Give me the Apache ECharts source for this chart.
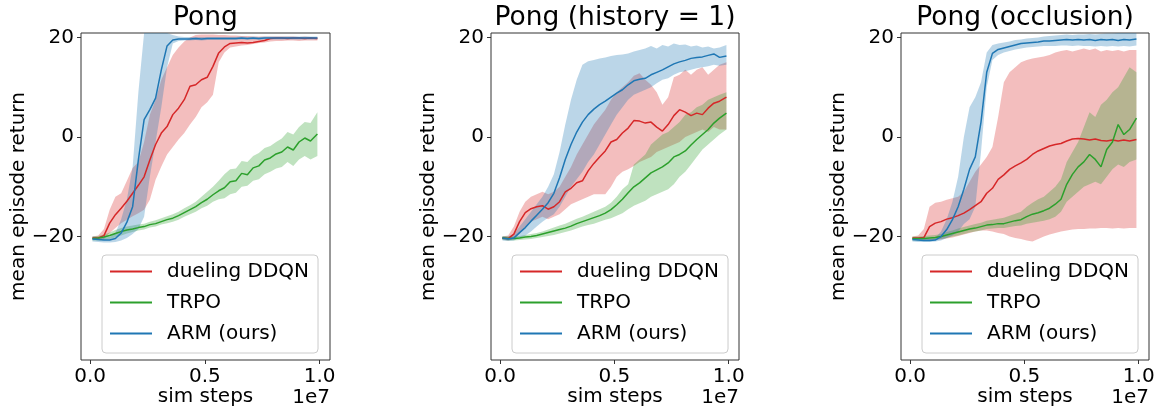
<!DOCTYPE html>
<html>
<head>
<meta charset="utf-8">
<script src="https://cdn.jsdelivr.net/npm/echarts@6/dist/echarts.min.js"></script>
<style>
  html, body { margin: 0; padding: 0; background: #fff; }
  #chart { width: 1158px; height: 409px; }
</style>
</head>
<body>
<div id="chart"></div>
<script>
// Training steps (in units of 1e7) shared by every curve
const STEPS = [0.01,0.035,0.06,0.085,0.11,0.135,0.16,0.185,0.21,0.235,0.26,0.285,0.31,0.335,0.36,0.385,0.41,0.435,0.46,0.485,0.51,0.535,0.56,0.585,0.61,0.635,0.66,0.685,0.71,0.735,0.76,0.785,0.81,0.835,0.86,0.885,0.91,0.935,0.96,0.99];

const TITLES = ['Pong', 'Pong (history = 1)', 'Pong (occlusion)'];
const METHODS = ['dueling DDQN', 'TRPO', 'ARM (ours)'];
const X_TICKS = [0, 0.5, 1.0];
const Y_TICKS = [-20, 0, 20];

// ---- Pong ----
const PONG_DDQN    = [-20.3,-20.3,-19.8,-17.3,-15.6,-14.3,-12.9,-11.3,-9.7,-8.0,-4.6,-1.5,0.8,2.1,4.5,5.8,7.5,10.2,10.5,11.5,12.0,14.2,16.9,18.1,18.8,18.9,19.0,18.9,19.0,19.2,19.4,19.8,19.9,19.9,19.8,19.9,19.9,19.8,19.9,19.8];
const PONG_DDQN_LO = [-20.6,-20.7,-20.5,-19.3,-18.3,-17.3,-16.6,-15.9,-15.3,-14.6,-12.6,-8.6,-5.9,-3.5,-2.0,-0.5,0.8,2.5,4.0,6.0,7.0,8.5,15.0,17.0,18.0,18.2,18.4,18.5,18.7,18.9,19.0,19.2,19.3,19.3,19.4,19.4,19.3,19.4,19.4,19.4];
const PONG_DDQN_HI = [-20.0,-19.8,-18.5,-14.6,-12.0,-11.3,-8.8,-6.2,-5.0,-1.0,4.5,7.5,11.5,14.0,16.5,18.0,19.2,20.0,20.5,20.6,20.6,20.6,20.5,20.5,20.4,20.4,20.3,20.3,20.2,20.2,20.2,20.2,20.2,20.2,20.2,20.2,20.1,20.2,20.1,20.1];
const PONG_TRPO    = [-20.4,-20.3,-20.1,-19.8,-19.4,-19.0,-18.7,-18.5,-18.2,-18.0,-17.6,-17.4,-17.0,-16.6,-16.3,-15.8,-15.2,-14.6,-14.0,-13.2,-12.5,-11.6,-10.8,-10.2,-9.0,-8.8,-7.3,-7.6,-6.2,-5.8,-4.6,-4.2,-3.4,-3.0,-2.0,-2.6,-1.0,-0.2,-0.8,0.6];
const PONG_TRPO_LO = [-20.8,-20.8,-20.7,-20.5,-20.2,-19.8,-19.4,-19.1,-18.8,-18.6,-18.2,-18.0,-17.6,-17.3,-17.0,-16.6,-16.0,-15.5,-15.0,-14.3,-13.8,-13.0,-12.5,-12.3,-11.5,-11.2,-10.0,-9.8,-8.8,-8.5,-7.5,-7.0,-6.3,-6.0,-5.0,-5.8,-4.5,-3.8,-4.5,-3.8];
const PONG_TRPO_HI = [-20.0,-19.9,-19.6,-19.2,-18.7,-18.3,-18.0,-17.8,-17.6,-17.4,-17.0,-16.7,-16.3,-15.9,-15.5,-15.0,-14.3,-13.7,-13.0,-12.0,-11.0,-10.0,-8.8,-7.5,-6.5,-6.3,-4.8,-5.0,-3.8,-3.2,-2.2,-1.8,-1.0,-0.3,1.0,0.5,2.0,3.0,2.8,5.0];
const PONG_ARM     = [-20.5,-20.6,-20.7,-20.7,-20.4,-19.3,-17.1,-14.0,-4.6,3.5,5.5,7.8,13.5,18.3,19.5,19.7,19.7,19.7,19.8,19.7,19.8,19.8,19.8,19.8,19.8,19.8,19.9,19.8,19.9,19.8,19.9,19.9,19.9,19.9,19.9,19.9,19.9,19.9,19.9,19.9];
const PONG_ARM_LO  = [-21.0,-21.1,-21.2,-21.2,-21.1,-20.8,-20.3,-19.5,-18.5,-16.0,-8.0,-1.0,6.0,14.0,18.8,19.3,19.4,19.4,19.5,19.4,19.5,19.5,19.5,19.5,19.5,19.5,19.6,19.5,19.6,19.5,19.6,19.6,19.6,19.6,19.6,19.6,19.6,19.6,19.6,19.6];
const PONG_ARM_HI  = [-20.0,-20.1,-20.2,-20.1,-19.3,-16.5,-12.5,-6.0,9.0,26.0,26.0,26.0,25.0,23.0,20.5,20.2,20.1,20.1,20.1,20.1,20.1,20.1,20.1,20.1,20.1,20.1,20.2,20.1,20.2,20.1,20.2,20.2,20.2,20.2,20.2,20.2,20.2,20.2,20.2,20.2];

// ---- Pong (history = 1) ----
const HIST_DDQN    = [-20.3,-20.4,-19.5,-17.0,-15.2,-14.4,-14.0,-13.8,-14.5,-14.0,-13.0,-11.0,-10.3,-9.2,-8.8,-6.8,-5.3,-4.0,-2.8,-1.0,-0.5,0.8,1.8,3.3,3.2,2.8,3.0,2.0,1.2,2.5,4.3,5.5,5.0,4.3,4.8,4.5,5.8,6.8,7.2,8.0];
const HIST_DDQN_LO = [-20.6,-20.8,-20.5,-19.5,-18.0,-17.0,-16.5,-16.0,-16.5,-16.0,-15.5,-14.5,-13.5,-13.0,-12.5,-12.0,-11.5,-11.5,-11.5,-10.0,-8.0,-7.0,-6.5,-5.8,-5.0,-4.5,-4.0,-3.0,-2.5,-2.0,-1.5,-1.0,0.0,0.5,1.0,1.5,1.0,2.0,1.5,1.5];
const HIST_DDQN_HI = [-20.0,-19.8,-18.0,-15.0,-13.0,-12.0,-11.5,-11.0,-11.5,-11.0,-10.0,-8.0,-6.0,-3.5,-1.5,0.5,2.5,4.0,5.5,7.5,9.0,10.0,11.0,12.3,12.8,11.5,10.5,9.0,6.5,8.0,12.0,12.5,13.5,12.5,13.5,14.0,12.5,13.5,14.5,15.0];
const HIST_TRPO    = [-20.3,-20.4,-20.4,-20.3,-20.1,-20.0,-19.8,-19.5,-19.2,-18.9,-18.6,-18.3,-17.9,-17.4,-17.0,-16.6,-16.2,-15.8,-15.3,-14.6,-13.6,-12.5,-11.2,-10.0,-9.2,-8.2,-7.2,-6.6,-6.0,-5.2,-4.0,-3.5,-2.8,-1.6,-0.5,0.5,1.5,2.8,3.8,4.8];
const HIST_TRPO_LO = [-20.7,-20.8,-20.8,-20.7,-20.6,-20.5,-20.3,-20.1,-19.9,-19.7,-19.4,-19.1,-18.8,-18.4,-18.0,-17.7,-17.4,-17.0,-16.6,-16.3,-15.8,-15.3,-14.5,-13.8,-13.3,-12.8,-12.0,-11.5,-11.0,-10.5,-9.5,-8.0,-7.0,-5.5,-4.0,-2.5,-1.5,-0.5,0.5,1.5];
const HIST_TRPO_HI = [-19.9,-20.0,-20.0,-19.9,-19.7,-19.5,-19.3,-19.0,-18.6,-18.2,-17.8,-17.4,-16.9,-16.4,-16.0,-15.5,-15.0,-14.5,-14.0,-13.2,-12.0,-10.5,-9.5,-5.5,-4.5,-3.5,-1.5,-0.5,0.5,1.0,2.0,3.0,4.5,5.0,6.0,6.5,7.5,8.0,8.5,9.0];
const HIST_ARM     = [-20.3,-20.5,-20.3,-19.2,-18.2,-16.9,-15.7,-14.5,-13.2,-11.3,-8.2,-4.5,-1.5,1.0,3.0,4.5,5.6,6.5,7.2,8.0,8.8,9.5,10.5,11.3,11.6,11.8,12.5,13.0,13.5,14.1,14.7,15.1,15.4,15.8,16.0,16.1,16.4,16.7,16.0,16.3];
const HIST_ARM_LO  = [-20.8,-20.9,-20.8,-20.3,-19.8,-19.0,-18.0,-17.0,-16.2,-15.5,-14.0,-12.0,-10.0,-8.5,-7.0,-5.0,-3.5,-1.5,0.5,2.5,4.5,6.0,7.5,8.5,9.0,9.5,10.0,10.8,11.5,11.8,12.5,13.0,13.2,13.5,13.8,14.0,14.2,14.5,14.3,14.5];
const HIST_ARM_HI  = [-20.0,-20.0,-19.5,-18.0,-16.5,-15.0,-13.5,-12.0,-10.0,-7.5,-3.0,2.5,7.5,11.5,14.5,15.2,15.5,15.8,16.0,16.3,16.5,16.6,16.8,17.2,17.5,17.8,18.3,17.8,18.5,18.2,18.8,18.5,18.6,18.2,18.4,18.0,18.2,17.8,18.0,18.5];

// ---- Pong (occlusion) ----
const OCCL_DDQN    = [-20.3,-20.3,-20.2,-18.0,-17.3,-17.0,-16.5,-16.2,-15.8,-15.3,-14.6,-13.8,-13.0,-11.3,-10.3,-8.5,-7.6,-6.5,-5.8,-5.2,-4.5,-3.5,-2.8,-2.3,-1.8,-1.5,-1.3,-0.8,-0.4,-0.3,-0.4,-0.6,-0.4,-0.7,-0.8,-0.6,-0.8,-0.6,-0.8,-0.5];
const OCCL_DDQN_LO = [-20.6,-20.7,-20.8,-20.8,-20.7,-20.6,-20.4,-20.2,-19.9,-19.6,-19.3,-19.0,-18.8,-18.8,-19.0,-19.3,-19.5,-20.0,-20.3,-20.5,-20.8,-21.0,-20.5,-20.0,-19.6,-19.3,-19.0,-18.8,-18.6,-18.5,-18.5,-18.4,-18.4,-18.3,-18.3,-18.4,-18.3,-18.4,-18.3,-18.3];
const OCCL_DDQN_HI = [-20.0,-19.8,-18.5,-14.0,-13.2,-13.0,-12.6,-12.3,-12.0,-11.0,-9.0,-7.0,-5.5,-4.0,-2.0,4.0,11.0,13.0,14.0,15.0,15.5,15.8,16.0,16.2,16.5,17.0,17.3,17.5,17.2,17.5,17.8,17.5,17.8,17.2,17.5,17.3,17.5,17.2,17.5,17.5];
const OCCL_TRPO    = [-20.4,-20.4,-20.4,-20.3,-20.2,-20.0,-19.7,-19.4,-19.1,-18.8,-18.5,-18.3,-18.0,-17.7,-17.6,-17.4,-17.4,-17.1,-16.8,-16.6,-16.0,-15.5,-15.2,-14.8,-14.3,-13.5,-12.5,-9.5,-7.5,-6.0,-5.0,-3.5,-4.5,-6.0,-2.5,-1.0,2.5,0.5,1.5,3.8];
const OCCL_TRPO_LO = [-20.8,-20.8,-20.8,-20.7,-20.6,-20.5,-20.3,-20.0,-19.8,-19.5,-19.2,-19.0,-18.8,-18.5,-18.4,-18.3,-18.3,-18.1,-17.9,-17.8,-17.4,-17.2,-17.0,-16.8,-16.5,-16.0,-15.0,-13.0,-12.0,-11.0,-10.0,-9.5,-9.0,-9.5,-8.0,-6.5,-5.5,-6.0,-5.0,-4.5];
const OCCL_TRPO_HI = [-20.0,-20.0,-19.9,-19.8,-19.7,-19.5,-19.1,-18.8,-18.4,-18.1,-17.8,-17.5,-17.2,-16.8,-16.6,-16.4,-16.2,-15.8,-15.4,-15.0,-14.0,-13.2,-12.5,-12.0,-11.0,-10.0,-8.5,-5.0,-3.0,-1.0,2.0,5.0,4.0,6.5,7.5,9.0,10.0,12.0,14.0,13.0];
const OCCL_ARM     = [-20.6,-20.7,-20.8,-20.8,-20.7,-20.0,-18.6,-16.6,-14.0,-10.5,-6.5,-4.0,3.0,13.0,16.8,17.6,17.9,18.2,18.5,18.8,18.9,19.0,19.1,19.3,19.3,19.4,19.5,19.6,19.5,19.6,19.5,19.6,19.4,19.6,19.5,19.6,19.4,19.6,19.5,19.7];
const OCCL_ARM_LO  = [-21.0,-21.1,-21.1,-21.1,-21.0,-20.8,-20.3,-19.8,-19.0,-17.5,-16.5,-14.0,-3.0,10.0,15.5,16.5,17.0,17.3,17.6,17.8,18.0,18.1,18.2,18.3,18.3,18.3,18.4,18.4,18.3,18.4,18.3,18.3,18.2,18.3,18.2,18.3,18.2,18.3,18.2,18.4];
const OCCL_ARM_HI  = [-20.3,-20.4,-20.5,-20.5,-20.3,-19.0,-16.5,-13.0,-8.0,0.0,6.0,8.0,11.0,17.0,18.5,18.8,19.0,19.2,19.5,19.6,19.8,19.9,20.0,20.2,20.3,20.4,20.5,20.6,20.5,20.6,20.6,20.7,20.6,20.7,20.8,20.8,20.9,20.9,21.0,21.0];

const PANELS = [
  { title: TITLES[0], curves: [[PONG_DDQN, PONG_DDQN_LO, PONG_DDQN_HI], [PONG_TRPO, PONG_TRPO_LO, PONG_TRPO_HI], [PONG_ARM, PONG_ARM_LO, PONG_ARM_HI]] },
  { title: TITLES[1], curves: [[HIST_DDQN, HIST_DDQN_LO, HIST_DDQN_HI], [HIST_TRPO, HIST_TRPO_LO, HIST_TRPO_HI], [HIST_ARM, HIST_ARM_LO, HIST_ARM_HI]] },
  { title: TITLES[2], curves: [[OCCL_DDQN, OCCL_DDQN_LO, OCCL_DDQN_HI], [OCCL_TRPO, OCCL_TRPO_LO, OCCL_TRPO_HI], [OCCL_ARM, OCCL_ARM_LO, OCCL_ARM_HI]] }
];

const LINE_COLORS = ['#d62728', '#2ca02c', '#1f77b4'];
const BAND_COLORS = ['rgba(214,39,40,0.3)', 'rgba(44,160,44,0.3)', 'rgba(31,119,180,0.3)'];
const FONT = 'DejaVu Sans';

// Panel placement (pixels)
const GRID_LEFT = [81, 491, 901];
const GRID_WIDTH = [249, 248, 248];
const GRID_TOP = 33;
const GRID_HEIGHT = 327;

function bandSeries(gi, lo, hi, color) {
  return {
    type: 'custom',
    xAxisIndex: gi,
    yAxisIndex: gi,
    silent: true,
    clip: true,
    data: STEPS.map((x, i) => [x, lo[i], hi[i]]),
    encode: { x: 0, y: [1, 2] },
    renderItem(params, api) {
      if (params.dataIndexInside !== 0) return;
      const cs = params.coordSys;
      const upper = [], lower = [];
      for (let i = 0; i < STEPS.length; i++) {
        upper.push(api.coord([STEPS[i], hi[i]]));
        lower.push(api.coord([STEPS[i], lo[i]]));
      }
      const pts = upper.concat(lower.reverse()).map(p =>
        [p[0], Math.min(Math.max(p[1], cs.y), cs.y + cs.height)]);
      return { type: 'polygon', shape: { points: pts }, style: { fill: color } };
    }
  };
}

function lineSeries(gi, name, values, color) {
  return {
    type: 'line',
    name: name,
    xAxisIndex: gi,
    yAxisIndex: gi,
    data: STEPS.map((x, i) => [x, values[i]]),
    symbol: 'none',
    showSymbol: false,
    clip: true,
    color: color,
    itemStyle: { color: color },
    lineStyle: { color: color, width: 1.5 }
  };
}

const grids = [], xAxes = [], yAxes = [], titles = [], legends = [], series = [], graphics = [];

PANELS.forEach((panel, gi) => {
  grids.push({
    left: GRID_LEFT[gi], top: GRID_TOP, width: GRID_WIDTH[gi], height: GRID_HEIGHT,
    containLabel: false, outerBoundsMode: 'none',
    show: true, borderColor: '#333', borderWidth: 1, backgroundColor: '#fff'
  });
  xAxes.push({
    type: 'value', gridIndex: gi, min: -0.04, max: 1.045, position: 'bottom',
    name: 'sim steps', nameLocation: 'middle', nameGap: 27, nameMoveOverlap: false,
    nameTextStyle: { fontFamily: FONT, fontSize: 20, color: '#000' },
    axisLine: { show: false, onZero: false },
    splitLine: { show: false },
    axisTick: { show: true, length: 4, customValues: X_TICKS, lineStyle: { color: '#333' } },
    axisLabel: { show: true, margin: 7, customValues: X_TICKS, fontFamily: FONT, fontSize: 20, color: '#000',
      formatter: v => v.toFixed(1) }
  });
  yAxes.push({
    type: 'value', gridIndex: gi, min: -44.8, max: 20.9, position: 'left',
    name: 'mean episode return', nameLocation: 'middle', nameGap: 52, nameRotate: 90, nameMoveOverlap: false,
    nameTextStyle: { fontFamily: FONT, fontSize: 20, color: '#000' },
    axisLine: { show: false, onZero: false },
    splitLine: { show: false },
    axisTick: { show: true, length: 4, customValues: Y_TICKS, lineStyle: { color: '#333' } },
    axisLabel: { show: true, margin: 7, customValues: Y_TICKS, fontFamily: FONT, fontSize: 20, color: '#000',
      formatter: v => (v < 0 ? '\u2212' + Math.abs(v) : String(v)) }
  });
  titles.push({
    text: panel.title,
    left: GRID_LEFT[gi] + GRID_WIDTH[gi] / 2,
    top: 5,
    textAlign: 'center',
    padding: 0,
    textStyle: { fontFamily: FONT, fontSize: 26.5, fontWeight: 'normal', color: '#000' }
  });
  legends.push({
    orient: 'vertical',
    left: GRID_LEFT[gi] + 21,
    top: 255,
    padding: [6, 9, 9, 8],
    itemGap: 10,
    itemWidth: 42,
    itemHeight: 2,
    icon: 'rect',
    backgroundColor: 'rgba(255,255,255,0.8)',
    borderColor: '#cccccc',
    borderWidth: 1,
    borderRadius: 4,
    selectedMode: false,
    data: METHODS,
    textStyle: { fontFamily: FONT, fontSize: 20, color: '#000', lineHeight: 21, padding: [0, 0, 0, 10] }
  });
  graphics.push({
    type: 'text',
    x: GRID_LEFT[gi] + GRID_WIDTH[gi],
    y: 398,
    style: { text: '1e7', fontFamily: FONT, fontSize: 20, fill: '#000', align: 'right', verticalAlign: 'middle' }
  });
  panel.curves.forEach((c, mi) => {
    series.push(bandSeries(gi, c[1], c[2], BAND_COLORS[mi]));
    series.push(lineSeries(gi, METHODS[mi], c[0], LINE_COLORS[mi]));
  });
});

const chart = echarts.init(document.getElementById('chart'), null, { renderer: 'canvas' });
chart.setOption({
  animation: false,
  backgroundColor: '#fff',
  title: titles,
  grid: grids,
  xAxis: xAxes,
  yAxis: yAxes,
  legend: legends,
  graphic: graphics,
  series: series
});
</script>
</body>
</html>
